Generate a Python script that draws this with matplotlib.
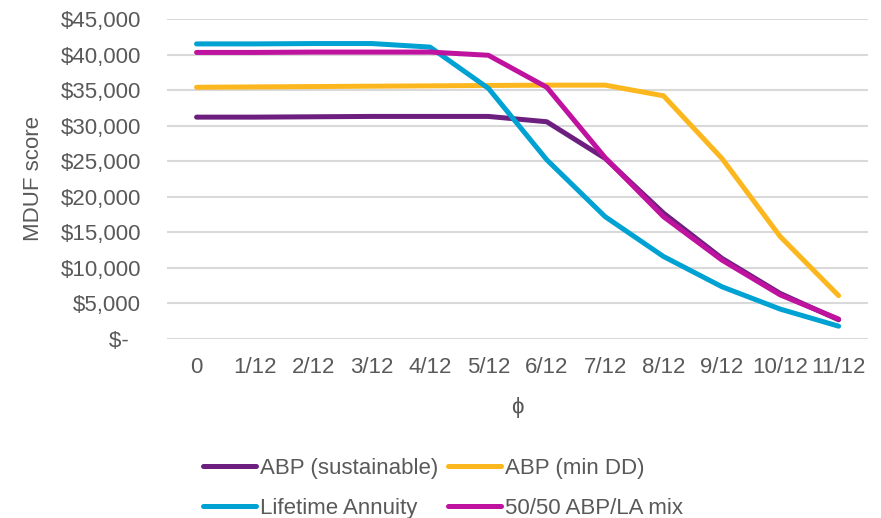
import matplotlib.pyplot as plt
from matplotlib.ticker import FuncFormatter, MultipleLocator

plt.rcParams['font.family'] = ['Liberation Sans', 'DejaVu Sans']

phi_labels = ["0", "1/12", "2/12", "3/12", "4/12", "5/12", "6/12",
              "7/12", "8/12", "9/12", "10/12", "11/12"]

abp_sustainable = [31200, 31200, 31250, 31300, 31300, 31300, 30550,
                   25400, 17700, 11350, 6400, 2700]
abp_min_dd = [35400, 35450, 35500, 35550, 35600, 35650, 35700,
              35700, 34200, 25400, 14400, 6100]
lifetime_annuity = [41500, 41500, 41550, 41550, 41050, 35250, 25200,
                    17200, 11600, 7350, 4200, 1800]
mix_50_50 = [40300, 40300, 40350, 40350, 40350, 39900, 35400,
             25500, 17200, 11100, 6200, 2800]

series = [
    ("ABP (sustainable)", abp_sustainable, "#6D1F80"),
    ("ABP (min DD)", abp_min_dd, "#FDB71E"),
    ("Lifetime Annuity", lifetime_annuity, "#00A2D3"),
    ("50/50 ABP/LA mix", mix_50_50, "#BE129F"),
]

text_color = "#595959"

fig = plt.figure(figsize=(8.81, 5.18), dpi=100)
ax = fig.add_axes([0.19, 0.3456, 0.795, 0.6177])

x = list(range(len(phi_labels)))
lines = []
for name, vals, color in series:
    ln, = ax.plot(x, vals, color=color, lw=3.6, label=name, solid_capstyle='round')
    lines.append(ln)

ax.set_xlim(-0.5, len(phi_labels) - 0.5)
ax.set_ylim(0, 45000)
ax.yaxis.set_major_locator(MultipleLocator(5000))


def money(v, pos):
    if v == 0:
        return "$-  "
    return "${:,.0f}".format(v)


ax.yaxis.set_major_formatter(FuncFormatter(money))
ax.set_xticks(x)
ax.set_xticklabels(phi_labels)

ax.grid(axis='y', color='#D9D9D9', lw=1.5)
ax.set_axisbelow(True)
for s in ax.spines.values():
    s.set_visible(False)
ax.tick_params(axis='both', length=0, labelsize=16, colors=text_color)
ax.tick_params(axis='x', pad=13)
ax.tick_params(axis='y', pad=19)

ax.set_ylabel("MDUF score", fontsize=16, color=text_color, labelpad=12)
ax.set_xlabel("ϕ", fontsize=16, color=text_color, labelpad=14)

# legend fills column-wise, so reorder to get Excel's row-wise layout
order = [0, 2, 1, 3]
fig.legend([lines[i] for i in order], [series[i][0] for i in order],
           loc='center', bbox_to_anchor=(443 / 881, 0.057), ncol=2,
           frameon=False, fontsize=16, handlelength=2.4, handletextpad=0.2,
           columnspacing=0.4, labelspacing=0.85, labelcolor=text_color)

fig.savefig("out.png", dpi=100)
